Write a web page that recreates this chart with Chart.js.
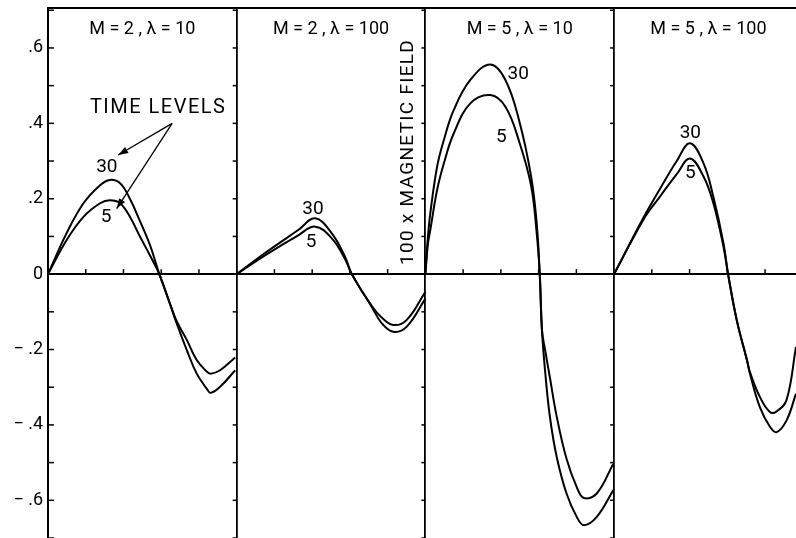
<!DOCTYPE html>
<html><head><meta charset="utf-8">
<script src="https://cdn.jsdelivr.net/npm/chart.js@4.4.0/dist/chart.umd.min.js"></script>
<style>html,body{margin:0;padding:0;background:#fff}#wrap{width:796px;height:538px;position:relative}</style>
</head><body><div id="wrap"><canvas id="c"></canvas></div>
<script>
// ---------------- data ----------------
const panelTitles = ['M = 2 , λ = 10', 'M = 2 , λ = 100', 'M = 5 , λ = 10', 'M = 5 , λ = 100'];
const timeLevels = ['30', '5'];
const yTickValues = [-0.6, -0.4, -0.2, 0, 0.2, 0.4, 0.6];
const yTickLabels = ['− .6', '− .4', '− .2', '0', '.2', '.4', '.6'];
const yAxisTitle = '100 x MAGNETIC FIELD';
const noteText = 'TIME LEVELS';

// panel 1 : M=2, lambda=10
const p1x   = [0, 0.49, 0.94, 1.38, 1.64, 1.91, 2.17, 2.44, 2.70, 2.95, 3.23, 3.41, 3.68, 3.94, 4.20, 4.31, 4.56, 4.96];
const p1t30 = [0, 0.108, 0.188, 0.236, 0.250, 0.241, 0.200, 0.140, 0.078, 0, -0.078, -0.131, -0.202, -0.264, -0.303, -0.315, -0.299, -0.255];
const p1t5  = [0, 0.090, 0.152, 0.188, 0.196, 0.188, 0.152, 0.099, 0.050, 0, -0.078, -0.125, -0.175, -0.228, -0.258, -0.264, -0.255, -0.221];
// panel 2 : M=2, lambda=100
const p2x   = [0, 0.75, 1.63, 2.08, 2.52, 2.87, 3.05, 3.58, 3.84, 4.15, 4.50, 5.00];
const p2t30 = [0, 0.056, 0.117, 0.148, 0.108, 0.046, 0, -0.087, -0.130, -0.153, -0.140, -0.065];
const p2t5  = [0, 0.050, 0.103, 0.126, 0.095, 0.040, 0, -0.085, -0.115, -0.135, -0.122, -0.047];
// panel 3 : M=5, lambda=10
const p3x   = [0, 0.06, 0.13, 0.31, 0.49, 0.75, 1.19, 1.72, 2.12, 2.49, 2.80, 2.95, 3.03, 3.09, 3.17, 3.30, 3.48, 3.74, 4.01, 4.20, 4.54, 4.98];
const p3t30 = [0, 0.090, 0.161, 0.285, 0.356, 0.435, 0.515, 0.556, 0.515, 0.405, 0.260, 0.134, 0, -0.150, -0.255, -0.379, -0.485, -0.582, -0.644, -0.666, -0.644, -0.573];
const p3t5  = [0, 0.075, 0.117, 0.223, 0.294, 0.373, 0.453, 0.475, 0.444, 0.350, 0.235, 0.108, 0, -0.150, -0.200, -0.275, -0.378, -0.490, -0.565, -0.594, -0.582, -0.503];
// panel 4 : M=5, lambda=100
const p4x   = [0, 0.78, 1.21, 1.66, 2.01, 2.37, 2.63, 2.90, 3.02, 3.25, 3.52, 3.60, 3.86, 4.13, 4.31, 4.57, 4.82];
const p4t30 = [0, 0.150, 0.225, 0.300, 0.347, 0.294, 0.205, 0.081, 0, -0.122, -0.228, -0.264, -0.352, -0.405, -0.419, -0.388, -0.317];
const p4t5  = [0, 0.145, 0.205, 0.265, 0.307, 0.259, 0.188, 0.072, 0, -0.122, -0.228, -0.260, -0.325, -0.366, -0.364, -0.334, -0.193];

// label anchors (data units)
const curveLabelX = [1.56, 1.54, 7.02, 6.97, 12.46, 12.01, 17.02, 17.02];
const curveLabelY = [0.284, 0.151, 0.173, 0.085, 0.531, 0.364, 0.374, 0.268];

// ---------------- chart ----------------
const panels = [[p1x, p1t30, p1t5], [p2x, p2t30, p2t5], [p3x, p3t30, p3t5], [p4x, p4t30, p4t5]];
const PANEL_W = 5;
const datasets = [];
panels.forEach((p, i) => {
  [p[1], p[2]].forEach((ys, j) => {
    datasets.push({
      label: panelTitles[i] + ' t=' + timeLevels[j],
      data: p[0].map((v, k) => ({x: v + i * PANEL_W, y: ys[k]})),
      borderColor: '#000', borderWidth: 2, pointRadius: 0, fill: false,
      tension: 0.4
    });
  });
});

const FONT = 'Roboto, "DejaVu Sans", sans-serif';

const decor = {
  id: 'decor',
  afterDatasetsDraw(chart) {
    const {ctx, chartArea: a, scales: {x, y}} = chart;
    ctx.save();
    ctx.strokeStyle = '#000'; ctx.fillStyle = '#000'; ctx.lineWidth = 1.5;
    const y0 = y.getPixelForValue(0);
    // minor y ticks on left axis and panel dividers
    for (let k = -7; k <= 7; k++) {
      const py = y.getPixelForValue(k / 10);
      ctx.beginPath(); ctx.moveTo(a.left, py); ctx.lineTo(a.left + 6, py); ctx.stroke();
      for (let i = 1; i < panels.length; i++) {
        const px = x.getPixelForValue(i * PANEL_W);
        ctx.beginPath(); ctx.moveTo(px, py); ctx.lineTo(px - 4, py); ctx.stroke();
      }
    }
    // x ticks on zero line
    for (let k = 1; k < panels.length * PANEL_W; k++) {
      if (k % PANEL_W === 0) continue;
      const px = x.getPixelForValue(k);
      ctx.beginPath(); ctx.moveTo(px, y0); ctx.lineTo(px, y0 - 5); ctx.stroke();
    }
    // panel titles
    ctx.textAlign = 'center'; ctx.textBaseline = 'middle';
    ctx.font = '18px ' + FONT;
    panelTitles.forEach((t, i) => {
      ctx.fillText(t, x.getPixelForValue(i * PANEL_W + PANEL_W / 2), y.getPixelForValue(0.649));
    });
    // curve labels
    ctx.font = '19px ' + FONT;
    curveLabelX.forEach((cx, i) => {
      ctx.fillText(timeLevels[i % 2], x.getPixelForValue(cx), y.getPixelForValue(curveLabelY[i]));
    });
    // TIME LEVELS note + arrows
    ctx.font = '20px ' + FONT;
    ctx.letterSpacing = '1.5px';
    ctx.fillText(noteText, x.getPixelForValue(2.92), y.getPixelForValue(0.441));
    ctx.letterSpacing = '0px';
    const arrow = (x1, y1, x2, y2) => {
      const X1 = x.getPixelForValue(x1), Y1 = y.getPixelForValue(y1);
      const X2 = x.getPixelForValue(x2), Y2 = y.getPixelForValue(y2);
      ctx.lineWidth = 1.3;
      ctx.beginPath(); ctx.moveTo(X1, Y1); ctx.lineTo(X2, Y2); ctx.stroke();
      const ang = Math.atan2(Y2 - Y1, X2 - X1), L = 10, W = 3.5;
      ctx.beginPath();
      ctx.moveTo(X2, Y2);
      ctx.lineTo(X2 - L * Math.cos(ang) + W * Math.sin(ang), Y2 - L * Math.sin(ang) - W * Math.cos(ang));
      ctx.lineTo(X2 - L * Math.cos(ang) - W * Math.sin(ang), Y2 - L * Math.sin(ang) + W * Math.cos(ang));
      ctx.closePath(); ctx.fill();
    };
    arrow(3.29, 0.40, 1.86, 0.316);
    arrow(3.29, 0.40, 1.82, 0.174);
    // vertical axis title inside panel 2
    ctx.save();
    ctx.translate(x.getPixelForValue(9.54), y.getPixelForValue(0.324));
    ctx.rotate(-Math.PI / 2);
    ctx.font = '19px ' + FONT;
    ctx.letterSpacing = '1.3px';
    ctx.fillText(yAxisTitle, 0, 0);
    ctx.restore();
    ctx.restore();
  }
};

new Chart(document.getElementById('c'), {
  type: 'line',
  data: {datasets},
  options: {
    responsive: true, maintainAspectRatio: false, animation: false,
    devicePixelRatio: 1,
    layout: {padding: {top: 8, left: 0, right: 0, bottom: 0}, autoPadding: false},
    plugins: {legend: {display: false}, tooltip: {enabled: false}},
    scales: {
      x: {
        type: 'linear', position: 'bottom', min: 0, max: 19.82,
        ticks: {display: false, stepSize: PANEL_W},
        grid: {drawTicks: false, lineWidth: 1.8,
          color: c => (c.tick && c.tick.value > 0 && c.tick.value < 19 && Math.abs(c.tick.value % PANEL_W) < 1e-6) ? '#000' : 'rgba(0,0,0,0)'},
        border: {display: false},
        afterFit: s => { s.height = 0; }
      },
      xTop: {
        type: 'linear', position: 'top', min: 0, max: 19.82,
        ticks: {display: false}, grid: {display: false, drawTicks: false},
        border: {display: true, color: '#000', width: 2},
        afterFit: s => { s.height = 0; }
      },
      y: {
        type: 'linear', min: -0.7, max: 0.706,
        afterBuildTicks: s => { s.ticks = yTickValues.map(v => ({value: v})); },
        ticks: {
          color: '#000', padding: 5, font: {family: FONT, size: 18},
          callback: v => { const i = yTickValues.findIndex(t => Math.abs(t - v) < 1e-9); return i >= 0 ? yTickLabels[i] : null; }
        },
        grid: {drawTicks: false, lineWidth: 2,
          color: c => (c.tick && Math.abs(c.tick.value) < 1e-9) ? '#000' : 'rgba(0,0,0,0)'},
        border: {display: true, color: '#000', width: 2},
        afterFit: s => { s.width = 48; s.paddingTop = 0; s.paddingBottom = 0; }
      }
    }
  },
  plugins: [decor]
});
</script></body></html>
